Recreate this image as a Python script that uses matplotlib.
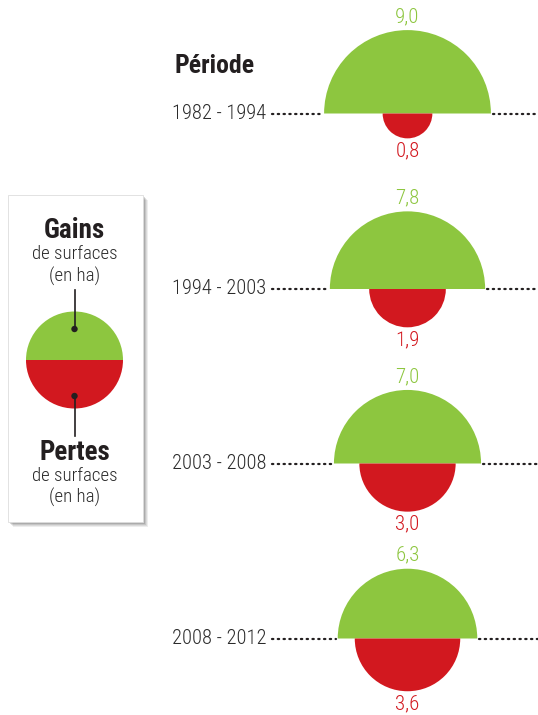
import numpy as np
import matplotlib
matplotlib.use("Agg")
import matplotlib.pyplot as plt
from matplotlib.patches import Wedge, Rectangle, Circle
from matplotlib import font_manager

periods = ["1982 - 1994", "1994 - 2003", "2003 - 2008", "2008 - 2012"]
gains = [9.0, 7.8, 7.0, 6.3]
losses = [0.8, 1.9, 3.0, 3.6]

GREEN = "#8DC63F"
RED = "#D2181F"
DARK = "#231F20"

names = {f.name for f in font_manager.fontManager.ttflist}
main = "Liberation Sans"
for cand in ["Roboto Condensed", "Archivo Narrow", "Barlow Condensed", "Liberation Sans Narrow"]:
    if cand in names:
        main = cand
        break
FAM = [main, "DejaVu Sans"]
plt.rcParams["font.family"] = FAM
LIGHT = 300 if main == "Roboto Condensed" else "normal"

W, H = 538, 715
fig = plt.figure(figsize=(W / 100, H / 100), dpi=100)
ax = fig.add_axes([0, 0, 1, 1])
ax.set_xlim(0, W)
ax.set_ylim(H, 0)
ax.set_aspect("equal")
ax.axis("off")

k = 27.8
cx = 407.5
base_y = [113.5, 289, 463.5, 638.5]

for i, (p, g, l) in enumerate(zip(periods, gains, losses)):
    y = base_y[i]
    rg = k * np.sqrt(g)
    rl = k * np.sqrt(l)
    for x0, x1 in [(272, cx - rg - 2), (cx + rg + 2, W)]:
        ax.plot([x0, x1], [y, y], color=DARK, lw=1.6, linestyle=(0, (0.6, 2.0)),
                dash_capstyle="round", zorder=1)
    ax.add_patch(Wedge((cx, y), rg, 180, 360, facecolor=GREEN, edgecolor="none", zorder=2))
    ax.add_patch(Wedge((cx, y), rl, 0, 180, facecolor=RED, edgecolor="none", zorder=2))
    ax.text(266, y, p, ha="right", va="center", fontsize=14.8, color="#2b2b2b",
            fontweight=LIGHT, zorder=3)
    ax.text(cx, y - rg - 4, f"{g:.1f}".replace(".", ","), ha="center", va="bottom",
            fontsize=15, color=GREEN, fontweight=LIGHT)
    ax.text(cx, y + rl + 3, f"{l:.1f}".replace(".", ","), ha="center", va="top",
            fontsize=15, color=RED, fontweight=LIGHT)

ax.text(174, 66, "Période", ha="left", va="center", fontsize=18.5, fontweight="bold", color=DARK)

# legend box with shadow
bx, by, bw, bh = 8, 195, 135, 327
for j, a in enumerate([0.10, 0.12, 0.16, 0.22]):
    off = 4 - j
    ax.add_patch(Rectangle((bx + off + 1, by + off + 1), bw, bh, facecolor="#555555",
                           edgecolor="none", alpha=a, zorder=4))
ax.add_patch(Rectangle((bx, by), bw, bh, facecolor="white", edgecolor="#dddddd", lw=0.6, zorder=5))

lcx, lcy, lr = 74.5, 360, 48.5
ax.add_patch(Wedge((lcx, lcy), lr, 180, 360, facecolor=GREEN, edgecolor="none", zorder=6))
ax.add_patch(Wedge((lcx, lcy), lr, 0, 180, facecolor=RED, edgecolor="none", zorder=6))
ax.plot([lcx, lcx], [290, 329], color=DARK, lw=1.2, zorder=7)
ax.plot([lcx, lcx], [396, 436], color=DARK, lw=1.2, zorder=7)
ax.add_patch(Circle((lcx, 329), 3.2, facecolor=DARK, zorder=8))
ax.add_patch(Circle((lcx, 396), 3.2, facecolor=DARK, zorder=8))

ax.text(lcx, 231, "Gains", ha="center", va="center", fontsize=19.5, fontweight="bold", color=DARK, zorder=9)
ax.text(lcx, 254, "de surfaces", ha="center", va="center", fontsize=13.6, color="#2b2b2b", fontweight=LIGHT, zorder=9)
ax.text(lcx, 276, "(en ha)", ha="center", va="center", fontsize=13.6, color="#2b2b2b", fontweight=LIGHT, zorder=9)
ax.text(lcx, 452, "Pertes", ha="center", va="center", fontsize=19.5, fontweight="bold", color=DARK, zorder=9)
ax.text(lcx, 476, "de surfaces", ha="center", va="center", fontsize=13.6, color="#2b2b2b", fontweight=LIGHT, zorder=9)
ax.text(lcx, 497, "(en ha)", ha="center", va="center", fontsize=13.6, color="#2b2b2b", fontweight=LIGHT, zorder=9)

fig.savefig("out.png", dpi=100, facecolor="white")
